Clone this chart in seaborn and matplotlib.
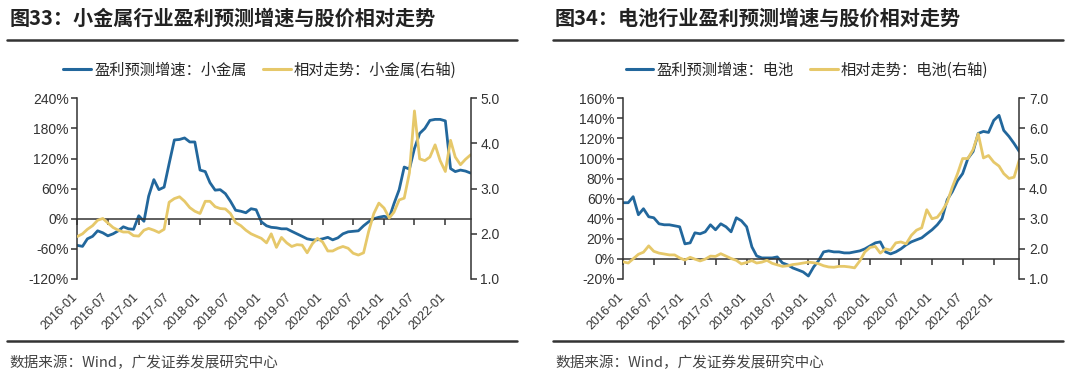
import pandas as pd
import matplotlib.pyplot as plt
import matplotlib.transforms as mtransforms
from matplotlib.lines import Line2D
from matplotlib.ticker import FuncFormatter
import seaborn as sns

# 月度数据 2016-01 ~ 2022-06
MONTHS = pd.date_range("2016-01-01", "2022-06-01", freq="MS")
XTICK_LABELS = ["2016-01", "2016-07", "2017-01", "2017-07", "2018-01", "2018-07", "2019-01",
                "2019-07", "2020-01", "2020-07", "2021-01", "2021-07", "2022-01"]

# 图33 小金属
growth_metal = [-53, -55, -40, -35, -24, -28, -34, -30, -24, -16,
                -20, -21, 6, -5, 45, 78, 58, 63, 110, 157,
                158, 161, 153, 153, 97, 94, 72, 57, 58, 50,
                35, 17, 15, 12, 20, 18, -6, -14, -17, -18,
                -20, -20, -25, -30, -35, -40, -42, -42, -40, -37,
                -42, -38, -30, -26, -25, -24, -14, -6, 0, 3,
                5, 2, 30, 58, 103, 99, 140, 170, 180, 196,
                198, 198, 195, 100, 94, 97, 95, 91]
relative_metal = [1.94, 2.00, 2.10, 2.18, 2.30, 2.34, 2.24, 2.14, 2.08, 2.04,
                  2.04, 1.96, 1.95, 2.08, 2.12, 2.08, 2.03, 2.10, 2.70, 2.78,
                  2.82, 2.72, 2.58, 2.50, 2.45, 2.72, 2.72, 2.60, 2.56, 2.55,
                  2.45, 2.25, 2.18, 2.08, 2.00, 1.95, 1.90, 1.80, 2.00, 1.70,
                  1.92, 1.80, 1.72, 1.76, 1.75, 1.58, 1.78, 1.90, 1.82, 1.62,
                  1.62, 1.68, 1.72, 1.68, 1.57, 1.53, 1.58, 2.05, 2.45, 2.68,
                  2.57, 2.35, 2.48, 2.75, 2.79, 3.35, 4.72, 3.66, 3.62, 3.70,
                  3.97, 3.62, 3.38, 4.07, 3.70, 3.53, 3.65, 3.75]

# 图34 电池
growth_battery = [56, 56, 62, 44, 50, 42, 41, 35, 34, 34,
                  33, 32, 15, 16, 26, 25, 27, 34, 29, 35,
                  32, 27, 41, 38, 32, 12, 3, 1, 1, 1,
                  2, -4, -6, -9, -11, -13, -17, -8, -2, 7,
                  8, 7, 7, 6, 6, 7, 8, 10, 13, 16,
                  17, 7, 5, 7, 10, 14, 17, 19, 21, 25,
                  29, 34, 40, 59, 67, 78, 85, 100, 107, 125,
                  127, 126, 138, 143, 128, 122, 115, 107]
relative_battery = [1.57, 1.53, 1.67, 1.82, 1.89, 2.10, 1.92, 1.86, 1.83, 1.80,
                    1.80, 1.70, 1.63, 1.72, 1.66, 1.60, 1.66, 1.76, 1.75, 1.84,
                    1.76, 1.68, 1.62, 1.50, 1.55, 1.61, 1.53, 1.56, 1.62, 1.52,
                    1.47, 1.42, 1.44, 1.48, 1.50, 1.53, 1.56, 1.54, 1.51, 1.44,
                    1.40, 1.39, 1.42, 1.42, 1.40, 1.37, 1.60, 1.90, 2.05, 2.08,
                    1.86, 2.00, 1.96, 2.20, 2.23, 2.17, 2.45, 2.62, 2.70, 3.30,
                    3.00, 3.05, 3.25, 3.55, 4.05, 4.50, 5.00, 5.00, 5.30, 5.82,
                    5.02, 5.10, 4.88, 4.75, 4.50, 4.34, 4.38, 4.95]

BLUE = "#22679c"
GOLD = "#e6c86a"
DARK = "#333333"
W, H = 1080, 383

sns.set_theme(style="white")
plt.rcParams["font.family"] = ["Liberation Sans", "Noto Sans CJK SC"]
CJK = ["Noto Sans CJK SC", "DejaVu Sans"]


def fx(px):
    return px / W


def fy(py):
    return 1 - py / H


def draw_panel(fig, x0, x1, title, growth, relative, name, lticks, rticks, rfmt):
    ax = fig.add_axes([fx(x0), fy(279), fx(x1 - x0), (279 - 98.3) / H])
    df = pd.DataFrame({"月份": MONTHS, "增速": growth, "走势": relative})
    sns.lineplot(data=df, x="月份", y="增速", ax=ax, color=BLUE, lw=2.0)
    ax2 = ax.twinx()
    sns.lineplot(data=df, x="月份", y="走势", ax=ax2, color=GOLD, lw=2.0)

    ax.set_xlim(MONTHS[0], MONTHS[-1])
    ax.set_ylim(lticks[0], lticks[-1])
    ax.set_yticks(lticks)
    ax.yaxis.set_major_formatter(FuncFormatter(lambda v, p: f"{v:.0f}%"))
    ax2.set_ylim(rticks[0], rticks[-1])
    ax2.set_yticks(rticks)
    ax2.yaxis.set_major_formatter(FuncFormatter(lambda v, p: rfmt.format(v)))
    for a in (ax, ax2):
        a.set_xlabel("")
        a.set_ylabel("")
        a.grid(False)
        for s in a.spines.values():
            s.set_visible(False)
    ax.spines["left"].set_visible(True)
    ax.spines["bottom"].set_visible(True)
    ax.spines["bottom"].set_position(("data", 0))
    ax2.spines["right"].set_visible(True)
    for s in (ax.spines["left"], ax.spines["bottom"], ax2.spines["right"]):
        s.set_color(DARK)
        s.set_linewidth(1.1)

    ticks = MONTHS[::6][:len(XTICK_LABELS)]
    ax.set_xticks(ticks)
    ax.tick_params(axis="x", direction="out", length=4, width=1.1, color=DARK,
                   labelbottom=False, bottom=True)
    ax.tick_params(axis="y", direction="out", length=4, width=1.1, color=DARK,
                   labelsize=10, labelcolor=DARK, left=True, pad=2)
    ax2.tick_params(axis="y", direction="out", length=4, width=1.1, color=DARK,
                    labelsize=10, labelcolor=DARK, right=True, pad=3)

    trans = mtransforms.blended_transform_factory(ax.transData, ax.transAxes)
    off = mtransforms.ScaledTranslation(-6 / 100, -12 / 100, fig.dpi_scale_trans)
    for t, lab in zip(ticks, XTICK_LABELS):
        ax.text(t, 0, lab, transform=trans + off, rotation=45, ha="right", va="top",
                rotation_mode="anchor", fontsize=9, color=DARK)

    # 标题、分隔线、图例、来源
    left = x0 - 70
    fig.text(fx(left + 2), fy(18), title, family=CJK, fontsize=14.5, fontweight="bold",
             color="#222222", va="center")
    fig.add_artist(Line2D([fx(left), fx(left + 510)], [fy(40), fy(40)], color=DARK, lw=1.8))
    fig.add_artist(Line2D([fx(left), fx(left + 510)], [fy(341), fy(341)], color=DARK, lw=1.8))
    fig.text(fx(left + 2), fy(363), "数据来源：Wind，广发证券发展研究中心", family=CJK,
             fontsize=10.5, color="#444444", va="center")

    handles = [Line2D([], [], color=BLUE, lw=2.2), Line2D([], [], color=GOLD, lw=2.2)]
    labels = [f"盈利预测增速：{name}", f"相对走势：{name}(右轴)"]
    fig.legend(handles, labels, loc="center", bbox_to_anchor=(fx((x0 + x1) / 2 - 14), fy(70)),
               ncol=2, frameon=False, handlelength=1.8, handletextpad=0.2, columnspacing=1.1,
               prop={"family": CJK, "size": 11})
    return ax, ax2


fig = plt.figure(figsize=(W / 100, H / 100), dpi=100)
draw_panel(fig, 77.3, 470.7, "图33：小金属行业盈利预测增速与股价相对走势",
           growth_metal, relative_metal, "小金属",
           [-120, -60, 0, 60, 120, 180, 240], [1.0, 2.0, 3.0, 4.0, 5.0], "{:.1f}")
draw_panel(fig, 623, 1019.3, "图34：电池行业盈利预测增速与股价相对走势",
           growth_battery, relative_battery, "电池",
           [-20, 0, 20, 40, 60, 80, 100, 120, 140, 160], [1.0, 2.0, 3.0, 4.0, 5.0, 6.0, 7.0], "{:.1f}")

fig.savefig("out.png", dpi=100, facecolor="white")
